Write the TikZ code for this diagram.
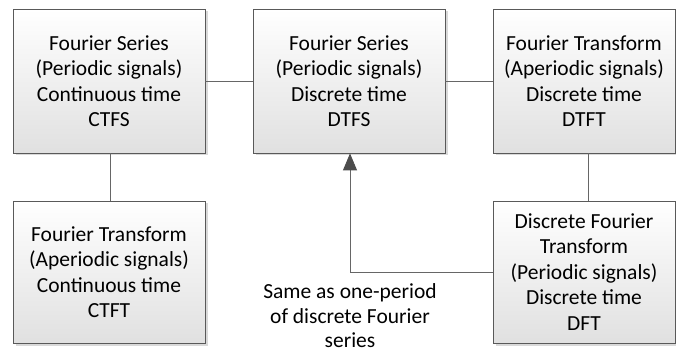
\documentclass[tikz,border=0pt]{standalone}
\usepackage{fontspec}
\setmainfont{Carlito}
\usetikzlibrary{shadows,arrows.meta}
\tikzset{
  box/.style={draw=black!65, line width=0.8pt, top color=white, bottom color=black!12,
    align=center, inner sep=0pt, font=\fontsize{21.5}{25.5}\selectfont,
    drop shadow={shadow xshift=2.5pt, shadow yshift=-2.5pt, fill=black!25, opacity=0.6}},
  link/.style={draw=black!60, line width=0.9pt},
  note/.style={align=center, inner sep=0pt, font=\fontsize{21.5}{24.5}\selectfont}
}
\begin{document}
\begin{tikzpicture}[x=1pt,y=1pt]
\useasboundingbox (0,0) rectangle (676,353);
\node[box, minimum width=192pt, minimum height=144pt] (ctfs) at (109,272) {Fourier Series\\(Periodic signals)\\Continuous time\\CTFS};
\node[box, minimum width=192pt, minimum height=144pt] (dtfs) at (349,272) {Fourier Series\\(Periodic signals)\\Discrete time\\DTFS};
\node[box, minimum width=182pt, minimum height=144pt] (dtft) at (584,272) {Fourier Transform\\(Aperiodic signals)\\Discrete time\\DTFT};
\node[box, minimum width=192pt, minimum height=142pt] (ctft) at (109,81) {Fourier Transform\\(Aperiodic signals)\\Continuous time\\CTFT};
\node[box, minimum width=182pt, minimum height=142pt] (dft) at (584,81) {Discrete Fourier\\Transform\\(Periodic signals)\\Discrete time\\DFT};
\node[note] (txt) at (350,37) {Same as one-period\\of discrete Fourier\\series};
\coordinate (corner) at (350,81);
\draw[link] (ctfs.east |- 0,272) -- (dtfs.west |- 0,272);
\draw[link] (dtfs.east |- 0,272) -- (dtft.west |- 0,272);
\draw[link] (ctfs.south -| 110,0) -- (ctft.north -| 110,0);
\draw[link] (dtft.south -| 588,0) -- (dft.north -| 588,0);
\draw[link, -{Triangle[length=17pt,width=14pt]}, arrows={[fill=black!70,color=black!70]}] (dft.west |- corner) -- (corner) -- (dtfs.south -| corner);
\end{tikzpicture}
\end{document}
